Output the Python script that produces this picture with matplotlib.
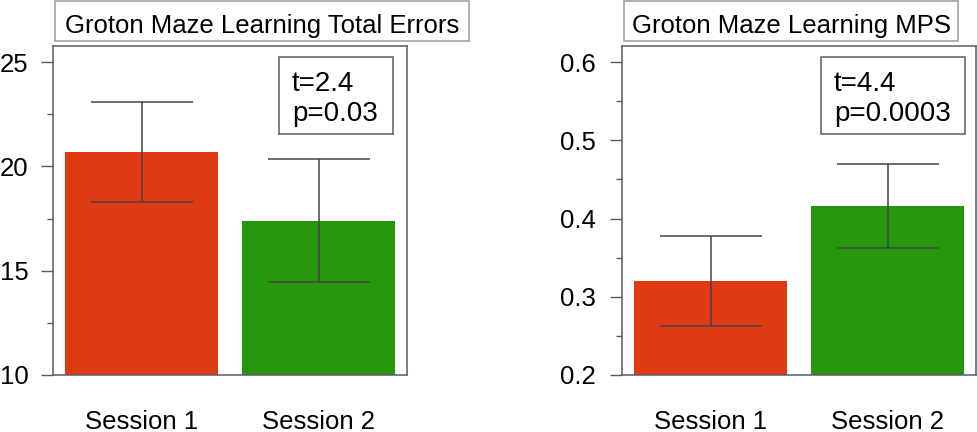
import matplotlib
matplotlib.use("Agg")
import matplotlib.pyplot as plt
from matplotlib.patches import Rectangle
from matplotlib.ticker import MultipleLocator

plt.rcParams['font.family'] = ['Liberation Sans', 'DejaVu Sans']

sessions = ['Session 1', 'Session 2']
colors = ['#e03a12', '#26960c']

errors_mean = [20.7, 17.4]
errors_sem = [2.4, 2.95]
mps_mean = [0.320, 0.416]
mps_sem = [0.058, 0.054]

titles = ['Groton Maze Learning Total Errors', 'Groton Maze Learning MPS']
t_stats = ['t=2.4', 't=4.4']
p_vals = ['p=0.03', 'p=0.0003']

W, H = 977, 432
fig = plt.figure(figsize=(W / 100, H / 100), dpi=100)

spine_col = '#5a5a6a'
box_col = '#9a9a9a'


def fx(px):
    return px / W


def fy(py):
    return 1 - py / H


def panel(left, means, sems, ylim, major, minor, fmt, ysize, ypad,
          title, title_box, tstat, pval, stat_box):
    ax = fig.add_axes([fx(left), fy(375), fx(354), 329 / H])
    x = [1, 2]
    ax.bar(x, means, width=0.86, color=colors, zorder=1)
    ax.errorbar(x, means, yerr=sems, fmt='none', ecolor='#444444',
                elinewidth=1.1, capsize=37, capthick=1.1, zorder=2)
    ax.set_xlim(0.5, 2.5)
    ax.set_ylim(*ylim)
    ax.yaxis.set_major_locator(MultipleLocator(major))
    ax.yaxis.set_minor_locator(MultipleLocator(minor))
    ax.yaxis.set_major_formatter(fmt)
    ax.set_xticks(x)
    ax.set_xticklabels(sessions)
    ax.tick_params(axis='x', length=0, pad=25, labelsize=18.5)
    ax.tick_params(axis='y', which='major', length=9, width=1, color=spine_col,
                   labelsize=ysize, pad=ypad)
    ax.tick_params(axis='y', which='minor', length=4.5, width=1, color=spine_col)
    for s in ax.spines.values():
        s.set_color(spine_col)
        s.set_linewidth(1.1)

    # title box
    x0, y0, x1, y1 = title_box
    fig.add_artist(Rectangle((fx(x0), fy(y1)), fx(x1 - x0), (y1 - y0) / H,
                             transform=fig.transFigure, fill=False,
                             edgecolor=box_col, linewidth=1.1))
    fig.text(fx((x0 + x1) / 2), fy(33), title, ha='center',
             va='baseline', fontsize=18.5)

    # stats box
    x0, y0, x1, y1 = stat_box
    fig.add_artist(Rectangle((fx(x0), fy(y1)), fx(x1 - x0), (y1 - y0) / H,
                             transform=fig.transFigure, fill=False,
                             edgecolor=spine_col, linewidth=1.1))
    fig.text(fx(x0 + 13), fy(91), tstat, ha='left', va='baseline', fontsize=20)
    fig.text(fx(x0 + 13), fy(121), pval, ha='left', va='baseline', fontsize=20)
    return ax


ax1 = panel(53, errors_mean, errors_sem, (10, 25.77), 5, 2.5, '{x:.0f}', 18.5, 8.5,
            titles[0], (55, 1, 469, 41), t_stats[0], p_vals[0], (279, 57, 393, 134))
ax2 = panel(622, mps_mean, mps_sem, (0.2, 0.6205), 0.1, 0.05, '{x:.1f}', 18.5, 10,
            titles[1], (624, 1, 958, 41), t_stats[1], p_vals[1], (821, 57, 965, 134))

fig.savefig('out.png', dpi=100)
